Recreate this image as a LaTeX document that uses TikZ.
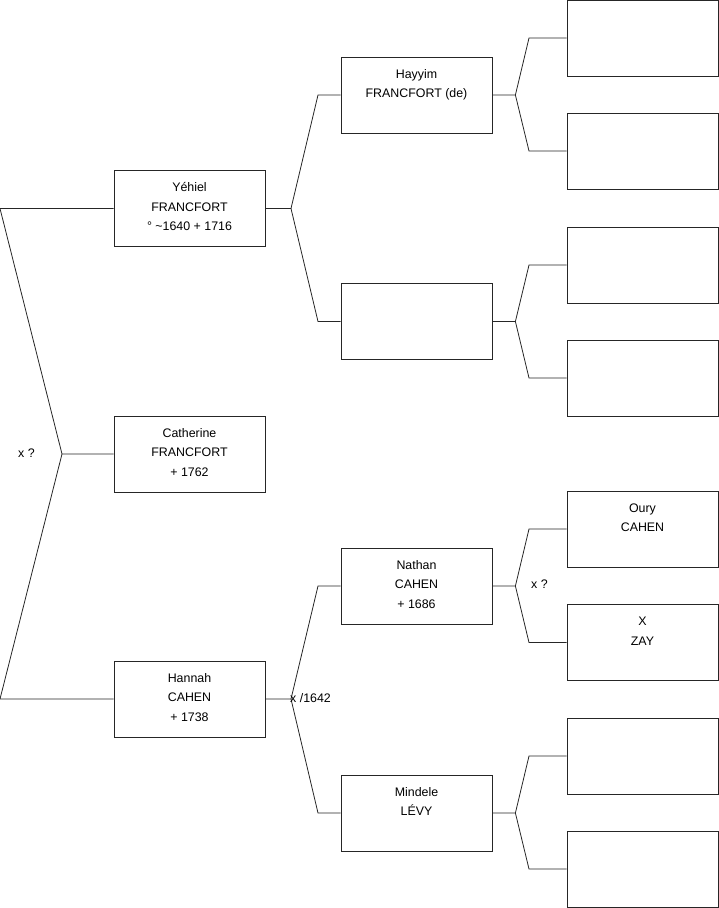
\documentclass[tikz,border=0pt]{standalone}
\usepackage{fontspec}
\setmainfont{Liberation Sans}
\usetikzlibrary{positioning}

% text of a box, set from its top edge
\newcommand{\pbox}[1]{\parbox[c][76pt][t]{151pt}{\centering\rule{0pt}{21pt}#1}}

\begin{document}
\begin{tikzpicture}[x=1pt, y=-1pt,
  person/.style={draw=black!85, fill=white, line width=0.8pt, inner sep=0pt, minimum width=151pt, minimum height=76pt, font=\fontsize{12.4}{19.6}\selectfont},
  link/.style={draw=black!85, line width=0.8pt},
  wed/.style={anchor=west, inner sep=0pt, font=\fontsize{12.4}{14}\selectfont}
]
  \useasboundingbox (0,0) rectangle (719,908);

  % generation 1
  \node[person] (yehiel) at (189.5,208.5) {\pbox{Yéhiel\\FRANCFORT\\° \textasciitilde1640 + 1716}};
  \node[person] (cath) at (189.5,454) {\pbox{Catherine\\FRANCFORT\\+ 1762}};
  \node[person] (hannah) at (189.5,699) {\pbox{Hannah\\CAHEN\\+ 1738}};

  % generation 2
  \node[person] (hayyim) at (416.5,95) {\pbox{Hayyim\\FRANCFORT (de)}};
  \node[person] (yehmo) at (416.5,321.5) {\pbox{}};
  \node[person] (nathan) at (416.5,586) {\pbox{Nathan\\CAHEN\\+ 1686}};
  \node[person] (mindele) at (416.5,813) {\pbox{Mindele\\LÉVY}};

  % generation 3
  \node[person] (hayfa) at (642.5,38) {\pbox{}};
  \node[person] (haymo) at (642.5,151) {\pbox{}};
  \node[person] (ymfa) at (642.5,265) {\pbox{}};
  \node[person] (ymmo) at (642.5,378) {\pbox{}};
  \node[person] (oury) at (642.5,529) {\pbox{Oury\\CAHEN}};
  \node[person] (zay) at (642.5,642.5) {\pbox{X\\ZAY}};
  \node[person] (minfa) at (642.5,756) {\pbox{}};
  \node[person] (minmo) at (642.5,869) {\pbox{}};

  % fork points
  \coordinate (fcath) at (62,454);
  \coordinate (cyeh) at (0,208.5);
  \coordinate (chan) at (0,699);
  \coordinate (fyeh) at (291,208.5);
  \coordinate (fhan) at (291,699);
  \foreach \kid in {hayyim,yehmo,nathan,mindele}
    \coordinate (f\kid) at ([xshift=23pt]\kid.east);

  % connectors
  \draw[link] (cath.west) -- (fcath) -- (cyeh) -- (yehiel.west);
  \draw[link] (fcath) -- (chan) -- (hannah.west);
  \draw[link] (yehiel.east) -- (fyeh) -- (hayyim.west -| 318,0) -- (hayyim.west);
  \draw[link] (fyeh) -- (yehmo.west -| 318,0) -- (yehmo.west);
  \draw[link] (hannah.east) -- (fhan) -- (nathan.west -| 318,0) -- (nathan.west);
  \draw[link] (fhan) -- (mindele.west -| 318,0) -- (mindele.west);
  \foreach \kid/\fa/\mo in {hayyim/hayfa/haymo, yehmo/ymfa/ymmo, nathan/oury/zay, mindele/minfa/minmo} {
    \draw[link] (\kid.east) -- (f\kid) -- (\fa.west -| 529,0) -- (\fa.west);
    \draw[link] (f\kid) -- (\mo.west -| 529,0) -- (\mo.west);
  }

  % marriages
  \node[wed] (wcath) at (18,453) {x ?};
  \node[wed] (whan) at (290,698) {x /1642};
  \node[wed] (wnat) at (531,584) {x ?};
\end{tikzpicture}
\end{document}
